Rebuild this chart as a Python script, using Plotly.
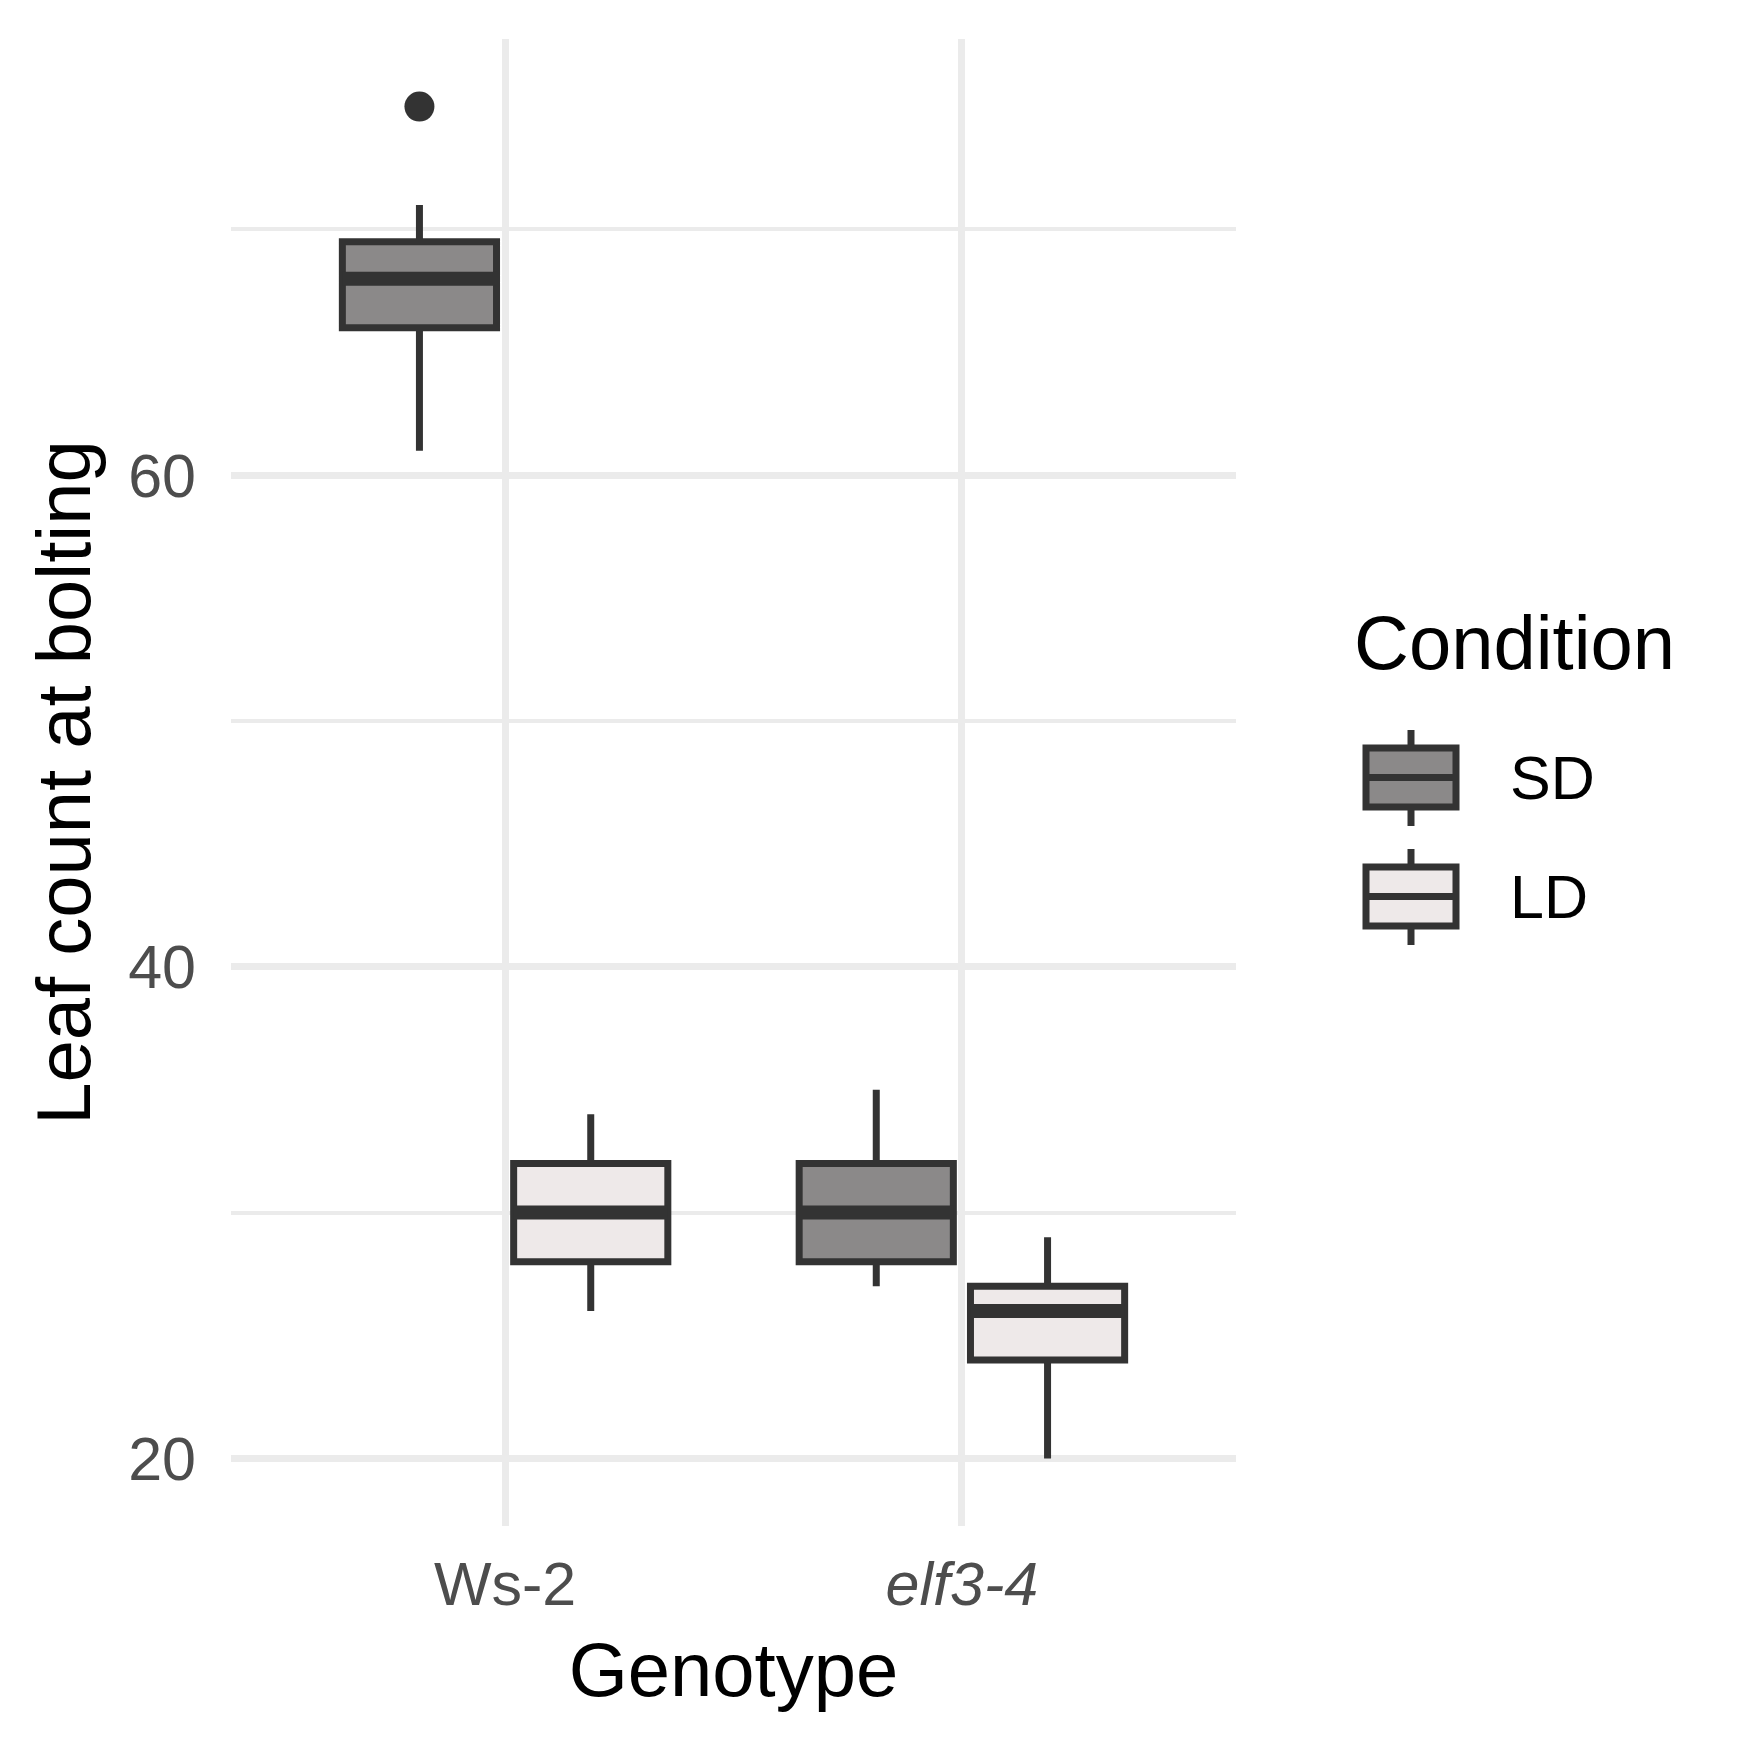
import plotly.graph_objects as go

# ---------------- data ----------------
genotypes = ["Ws-2", "elf3-4"]
genotype_labels = ["Ws-2", "<i>elf3-4</i>"]
conditions = ["SD", "LD"]

sd_lower = [61, 27]
sd_q1 = [66, 28]
sd_median = [68, 30]
sd_q3 = [69.5, 32]
sd_upper = [71, 35]
sd_outliers = [[75], []]

ld_lower = [26, 20]
ld_q1 = [28, 24]
ld_median = [30, 26]
ld_q3 = [32, 27]
ld_upper = [34, 29]
ld_outliers = [[], []]

y_ticks = [20, 40, 60]
y_minor_ticks = [30, 50, 70]

# ---------------- style ----------------
LINE = "#333333"
GRID = "#EBEBEB"
FILLS = {"SD": "#8B8989", "LD": "#EEE9E9"}
FONT = "Liberation Sans, Arial, Helvetica, sans-serif"

W, H = 1750, 1750
PL, PR, PT, PB = 231, 1236, 39, 1526  # plot area in px


def px_x(px):
    return (px - PL) / (PR - PL)


def px_y(py):
    return (PB - py) / (PB - PT)


stats = {
    "SD": dict(lowerfence=sd_lower, q1=sd_q1, median=sd_median, q3=sd_q3,
               upperfence=sd_upper, pts=sd_outliers),
    "LD": dict(lowerfence=ld_lower, q1=ld_q1, median=ld_median, q3=ld_q3,
               upperfence=ld_upper, pts=ld_outliers),
}

fig = go.Figure()

for cond in conditions:
    s = stats[cond]
    has_pts = any(len(p) > 0 for p in s["pts"])
    fig.add_trace(go.Box(
        name=cond, x=genotypes, y=s["pts"] if has_pts else None,
        q1=s["q1"], median=s["median"], q3=s["q3"],
        lowerfence=s["lowerfence"], upperfence=s["upperfence"],
        boxpoints="outliers" if has_pts else False, pointpos=0, jitter=0,
        offsetgroup=cond, alignmentgroup="all",
        fillcolor=FILLS[cond], line=dict(color=LINE, width=7),
        whiskerwidth=0,
        marker=dict(color=LINE, size=30, line=dict(width=0)),
        showlegend=False, hoverinfo="skip",
    ))

# thicker median bars (ggplot fatten = 2)
for cond in conditions:
    s = stats[cond]
    fig.add_trace(go.Box(
        name=cond + " median", x=genotypes,
        q1=s["median"], median=s["median"], q3=s["median"],
        lowerfence=s["median"], upperfence=s["median"],
        boxpoints=False, offsetgroup=cond, alignmentgroup="all",
        fillcolor="rgba(0,0,0,0)", line=dict(color=LINE, width=14),
        whiskerwidth=0, showlegend=False, hoverinfo="skip",
    ))

# ---------------- custom legend (ggplot style key) ----------------
shapes = []
annotations = []
annotations.append(dict(
    text="Condition", xref="paper", yref="paper",
    x=px_x(1352), y=px_y(671), xanchor="left", yanchor="bottom",
    showarrow=False, font=dict(family=FONT, size=76, color="black"),
    yshift=-16,
))
key_offsets = {"SD": 0, "LD": 119}
for cond in conditions:
    off = key_offsets[cond]
    cx = 1411
    # whisker
    shapes.append(dict(type="line", xref="paper", yref="paper",
                       x0=px_x(cx), x1=px_x(cx), y0=px_y(730 + off), y1=px_y(826 + off),
                       line=dict(color=LINE, width=7), layer="above"))
    # box
    shapes.append(dict(type="rect", xref="paper", yref="paper",
                       x0=px_x(1366), x1=px_x(1456), y0=px_y(748 + off), y1=px_y(807 + off),
                       fillcolor=FILLS[cond], line=dict(color=LINE, width=7), layer="above"))
    # median
    shapes.append(dict(type="line", xref="paper", yref="paper",
                       x0=px_x(1366), x1=px_x(1456), y0=px_y(777.5 + off), y1=px_y(777.5 + off),
                       line=dict(color=LINE, width=7), layer="above"))
    annotations.append(dict(
        text=cond, xref="paper", yref="paper",
        x=px_x(1508), y=px_y(778 + off), xanchor="left", yanchor="middle",
        showarrow=False, font=dict(family=FONT, size=61, color="black"),
    ))

fig.update_layout(
    width=W, height=H,
    margin=dict(l=PL, r=W - PR, t=PT, b=H - PB, pad=0),
    paper_bgcolor="white", plot_bgcolor="white",
    boxmode="group", boxgap=0.25, boxgroupgap=0.1,
    showlegend=False,
    font=dict(family=FONT, color="black"),
    shapes=shapes, annotations=annotations,
    xaxis=dict(
        type="category", categoryorder="array", categoryarray=genotypes,
        range=[-0.6, 1.6],
        tickvals=genotypes, ticktext=genotype_labels,
        tickfont=dict(family=FONT, size=61, color="#4D4D4D"),
        ticks="", ticklabelstandoff=17,
        showgrid=True, gridcolor=GRID, gridwidth=7,
        zeroline=False, showline=False,
        title=dict(text="Genotype", font=dict(family=FONT, size=76, color="black"),
                   standoff=25),
    ),
    yaxis=dict(
        range=[17.25, 77.75],
        tickmode="array", tickvals=y_ticks,
        tickfont=dict(family=FONT, size=61, color="#4D4D4D"),
        ticks="", ticklabelstandoff=34,
        showgrid=True, gridcolor=GRID, gridwidth=7,
        minor=dict(tickmode="array", tickvals=y_minor_ticks, showgrid=True,
                   gridcolor=GRID, gridwidth=4),
        zeroline=False, showline=False,
        title=dict(text="Leaf count at bolting",
                   font=dict(family=FONT, size=76, color="black"), standoff=12),
    ),
)

fig.write_html("out.html")
